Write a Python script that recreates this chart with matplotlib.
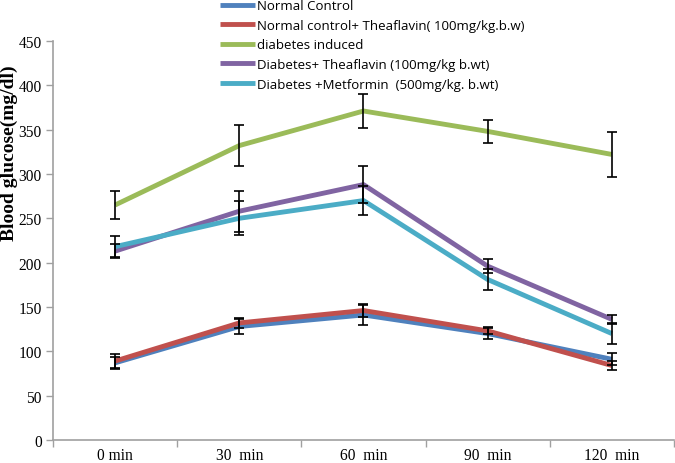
import numpy as np
import matplotlib.pyplot as plt
from matplotlib.ticker import FixedLocator, NullFormatter

# time points
times = ["0 min", "30  min", "60  min", "90  min", "120  min"]

# series: mean blood glucose (mg/dl)
normal_control = [87, 128, 141, 120, 91]
normal_tf = [89, 132, 146, 123, 84]
diabetes = [265, 332, 371, 348, 322]
diabetes_tf = [213, 258, 288, 196, 136]
diabetes_met = [218, 250, 270, 181, 120]

# error bars (+/-)
normal_control_err = [7, 9, 11, 6, 7]
normal_tf_err = [8, 6, 7, 4, 5]
diabetes_err = [16, 23, 19, 13, 25]
diabetes_tf_err = [8, 23, 21, 8, 5]
diabetes_met_err = [12, 19, 16, 12, 12]

labels = ["Normal Control",
          "Normal control+ Theaflavin( 100mg/kg.b.w)",
          "diabetes induced",
          "Diabetes+ Theaflavin (100mg/kg b.wt)",
          "Diabetes +Metformin  (500mg/kg. b.wt)"]
colors = ["#4F81BD", "#C0504D", "#9BBB59", "#8064A2", "#4BACC6"]

series = [normal_control, normal_tf, diabetes, diabetes_tf, diabetes_met]
errs = [normal_control_err, normal_tf_err, diabetes_err, diabetes_tf_err, diabetes_met_err]

fig = plt.figure(figsize=(6.75, 4.64), dpi=100)
ax = fig.add_axes([0.0785, 0.0496, 0.9200, 0.860])

x = np.arange(len(times))
handles = []
for y, e, c, lab in zip(series, errs, colors, labels):
    ax.errorbar(x, y, yerr=e, fmt="none", ecolor="black", elinewidth=1.2,
                capsize=3.5, capthick=1.2, zorder=3)
    h, = ax.plot(x, y, color=c, lw=3.5, label=lab, zorder=2,
                 solid_capstyle="butt")
    handles.append(h)

ax.set_xlim(-0.5, 4.5)
ax.set_ylim(0, 450)
ax.set_yticks(range(0, 451, 50))
ax.set_xticks(x)
ax.set_xticklabels(times)
ax.xaxis.set_minor_locator(FixedLocator(np.arange(-0.5, 4.6, 1)))
ax.xaxis.set_minor_formatter(NullFormatter())
ax.tick_params(axis="x", which="major", length=0, pad=5)
ax.tick_params(axis="x", which="minor", length=5, color="#A0A0A0", width=1)
ax.tick_params(axis="y", length=5, color="#A0A0A0", width=1, pad=3)

for lbl in ax.get_xticklabels() + ax.get_yticklabels():
    lbl.set_fontfamily("Liberation Serif")
    lbl.set_fontsize(11.2)

for s in ["top", "right"]:
    ax.spines[s].set_visible(False)
for s in ["left", "bottom"]:
    ax.spines[s].set_color("#A0A0A0")
    ax.spines[s].set_linewidth(1.2)

ax.set_ylabel("Blood glucose(mg/dl)", fontfamily="Liberation Serif",
              fontweight="bold", fontsize=14)
ax.yaxis.set_label_coords(-0.056, 0.722)

fig.legend(handles=handles, loc="upper left", bbox_to_anchor=(0.308, 1.025),
           frameon=False, handlelength=2.7, handletextpad=0.1,
           labelspacing=0.5, prop={"family": "Open Sans", "size": 9.5})

fig.savefig("out.png", dpi=100)
